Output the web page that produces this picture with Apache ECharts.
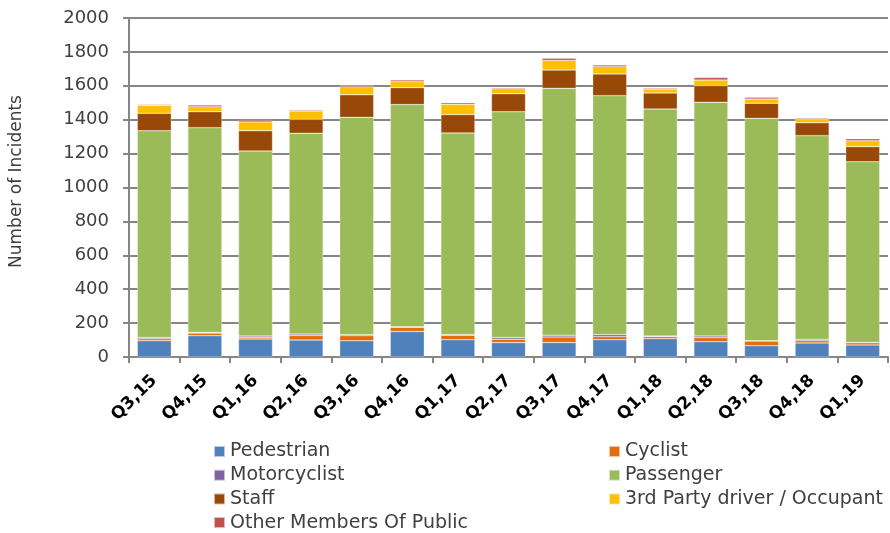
<!DOCTYPE html>
<html>
<head>
<meta charset="utf-8">
<script src="https://cdn.jsdelivr.net/npm/echarts@6/dist/echarts.min.js"></script>
<style>
  html, body { margin: 0; padding: 0; background: #fff; }
  #chart { width: 890px; height: 533px; }
</style>
</head>
<body>
<div id="chart"></div>
<script>
// incidents by quarter, stacked by person type
var quarters = ['Q3,15', 'Q4,15', 'Q1,16', 'Q2,16', 'Q3,16', 'Q4,16', 'Q1,17', 'Q2,17',
                'Q3,17', 'Q4,17', 'Q1,18', 'Q2,18', 'Q3,18', 'Q4,18', 'Q1,19'];

var pedestrian   = [96, 126, 106, 100, 96, 150, 102, 85, 85, 102, 108, 90, 67, 83, 71];
var cyclist      = [11, 15, 10, 27, 30, 25, 27, 20, 33, 18, 12, 24, 27, 13, 13];
var motorcyclist = [8, 4, 8, 8, 6, 3, 4, 10, 10, 12, 4, 10, 2, 8, 2];
var passenger    = [1220, 1208, 1091, 1185, 1282, 1311, 1189, 1332, 1457, 1410, 1339, 1379, 1312, 1202, 1066];
var staff        = [103, 94, 120, 82, 133, 100, 108, 106, 108, 128, 95, 98, 89, 76, 89];
var thirdParty   = [47, 30, 52, 49, 48, 35, 61, 30, 57, 43, 23, 33, 25, 20, 35];
var otherPublic  = [5, 10, 11, 6, 8, 10, 9, 6, 12, 10, 6, 15, 10, 6, 12];

var yTicks = [0, 200, 400, 600, 800, 1000, 1200, 1400, 1600, 1800, 2000];

var myChart = echarts.init(document.getElementById('chart'));

function bar(name, data, color) {
    return {
        name: name,
        type: 'bar',
        stack: 'total',
        barWidth: 34,
        data: data,
        itemStyle: {
            color: color,
            borderColor: 'rgba(255,255,255,0.6)',
            borderWidth: 0.5
        }
    };
}

var font = 'DejaVu Sans';
var legendText = { color: '#404040', fontSize: 19, lineHeight: 19, fontFamily: font };

function legend(left, names) {
    return {
        orient: 'vertical',
        left: left,
        top: 442,
        height: 100,
        padding: 0,
        itemWidth: 11,
        itemHeight: 11,
        itemGap: 4.7,
        icon: 'rect',
        textStyle: legendText,
        data: names
    };
}

option = {
    animation: false,
    textStyle: { fontFamily: font },
    grid: { left: 128, right: 2, top: 18, bottom: 176 },
    legend: [
        legend(213, ['Pedestrian', 'Motorcyclist', 'Staff', 'Other Members Of Public']),
        legend(608, ['Cyclist', 'Passenger', '3rd Party driver / Occupant'])
    ],
    xAxis: {
        type: 'category',
        data: quarters,
        axisLine: { lineStyle: { color: '#868686', width: 2 } },
        axisTick: { show: true, length: 6, lineStyle: { color: '#868686', width: 2 } },
        axisLabel: {
            rotate: 45,
            interval: 0,
            margin: 21,
            color: '#000',
            fontSize: 17,
            fontWeight: 'bold',
            fontFamily: font
        }
    },
    yAxis: {
        type: 'value',
        min: yTicks[0],
        max: yTicks[yTicks.length - 1],
        interval: 200,
        name: 'Number of Incidents',
        nameLocation: 'middle',
        nameGap: 104,
        nameTextStyle: { color: '#404040', fontSize: 17, fontFamily: font, padding: [0, 0, 0, 12] },
        axisLine: { show: true, lineStyle: { color: '#868686', width: 2 } },
        axisTick: { show: true, length: 6, lineStyle: { color: '#868686', width: 2 } },
        axisLabel: {
            color: '#404040', fontSize: 18, margin: 20, fontFamily: font,
            formatter: function (v) { return String(v); }
        },
        splitLine: { lineStyle: { color: '#868686', width: 2 } }
    },
    series: [
        bar('Pedestrian', pedestrian, '#4F81BD'),
        bar('Cyclist', cyclist, '#E46C0A'),
        bar('Motorcyclist', motorcyclist, '#8064A2'),
        bar('Passenger', passenger, '#9BBB59'),
        bar('Staff', staff, '#984807'),
        bar('3rd Party driver / Occupant', thirdParty, '#FFC000'),
        bar('Other Members Of Public', otherPublic, '#C0504D')
    ]
};

myChart.setOption(option);
</script>
</body>
</html>
